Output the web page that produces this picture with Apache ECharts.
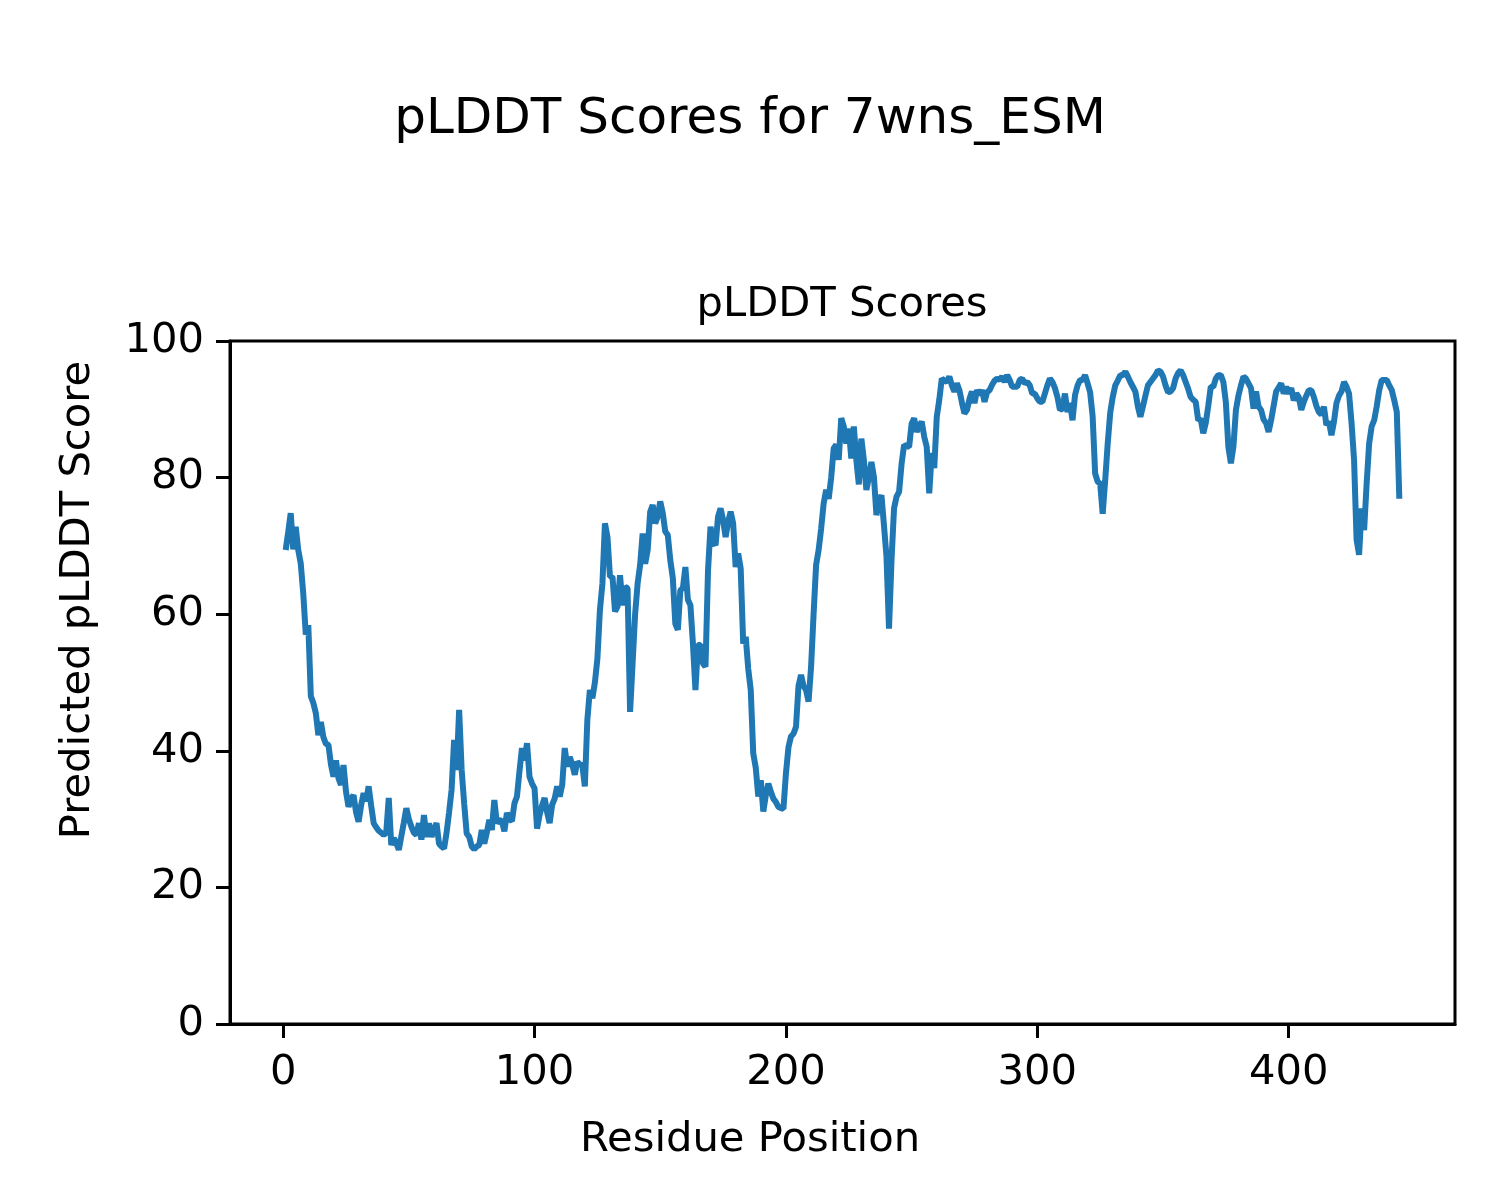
<!DOCTYPE html>
<html>
<head>
<meta charset="utf-8">
<script src="https://cdn.jsdelivr.net/npm/echarts@6/dist/echarts.min.js"></script>
<style>html,body{margin:0;padding:0;background:#fff}#c{width:1500px;height:1200px}</style>
</head>
<body>
<div id="c"></div>
<script>
// Residue positions start at 1
const startResidue = 1;
const pLDDT_0_42 = [69.4,72,74.8,69.5,72.8,69.4,67.4,63,57,58.4,48,47,45.5,42.3,44.2,42,41,40.9,38,36.2,38.6,36,35,37.9,34,31.8,33,33.5,31,29.6,32,33.8,32.6,34.8,32,29.4,28.8,28.3,28,27.7,28,33.1,26.2];
const pLDDT_43_84 = [27.2,26.5,25.5,27.5,29.5,31.6,30,28.9,28,27.7,29.4,27,30.6,27.4,29.4,27.4,28.5,29.4,26.4,26,25.7,28,31,34.3,41.6,37.2,46,37.2,32.3,27.9,27.4,26,25.6,26,26.2,28.4,26.4,28,29.9,28.4,32.8,29.4];
const pLDDT_85_129 = [29.9,29.7,28.2,30.9,30,29.7,32.3,33.3,37,40.4,38.6,41.1,36.2,35.2,34.5,28.6,30.6,32,33.1,31,29.4,32.1,33,34.8,33.3,35,40.4,37.7,39.1,38,36.5,38.4,38,37.9,34.8,44.5,48.9,47.7,50,53.5,60.6,64.5,73.3,71.3,65.5];
const pLDDT_130_172 = [65.5,60.4,61.1,65.7,61.3,64,63.8,45.7,52.8,60,64.5,67.2,71.8,67.4,69.4,75,76,73.3,74.3,76.5,74.8,72.1,71.6,67.9,65.3,58.6,57.7,63.5,63.8,66.9,62.1,61.3,55.7,48.9,55.5,55.5,52.8,52.3,66.4,72.8,70.6,70.1,74.3];
const pLDDT_173_215 = [75.5,73.8,71.3,73.5,75,73.3,66.9,68.9,66.7,55.7,56.7,52,48.9,39.6,37.5,33.3,35.7,31.1,33.5,35.2,34,33,32.5,31.8,31.6,31.5,36.7,40.5,42.1,42.5,43.5,49.5,51.1,49.5,48.9,47.2,52.3,60,67.2,69.4,72.5,76.2,78.2];
const pLDDT_216_260 = [76.9,80,84.3,84.8,82.6,88.7,87.5,85,87.2,82.8,87.5,82.6,79,85.7,82.6,78.2,80,82.3,80.1,74.5,76.7,77.4,73,68.4,57.9,67.9,75.5,77.2,77.9,82,84.8,84.6,84.5,87.9,88.7,86.7,87.5,88.2,86,84.5,77.7,83.6,81.4,88.9,91.4];
const pLDDT_261_304 = [94.5,94.2,94,94.8,93.5,92.6,93.8,92.8,91,89.4,89.9,91.5,92.6,90.9,92.8,92.1,92.8,91.1,92.5,92.8,93.6,94.2,94.5,94.3,94.8,94,95,94.3,93.3,93.3,93.3,94.3,94.5,93.8,94,93.5,92.3,92.3,91.6,91.1,91.1,92.3,93.5,94.5];
const pLDDT_305_347 = [94,93.1,91.8,89.9,90.1,92.3,89.6,90.9,88.4,92.1,93.5,94.3,94.3,95,93.8,92.5,89,80.6,79.4,79.1,74.7,79.6,85,89.5,91.8,93.5,94.2,95,95,95.5,94.8,94,93.3,92.6,90.4,88.9,90.4,92,93.5,94,94.5,95,95.7];
const pLDDT_348_391 = [95.5,94.8,93.5,92.5,92.6,93.1,94.5,95.3,95.7,95,94,93,91.8,91.4,91.1,88.4,88.6,86.5,88,90.5,93.3,93.3,94.5,95,95,94,91,84.5,82.1,84.5,89.9,92,93.5,94.8,94.5,93.8,93.1,90.1,92.6,90.4,89.9,88.5,88,86.7];
const pLDDT_392_443 = [88.4,90.5,92.6,93.2,93.8,92.3,93.3,92.3,93.1,91.3,92.3,91.8,89.9,91.1,92,92.8,92.8,91.8,90.5,89.6,89.2,90.4,87.7,88.2,86.2,88.2,90.9,92,92.6,94,93.3,92.3,88,82.6,70.9,68.7,75.5,72.3,79.1,85,87.5,88.4,90.4,92.8,94.3,94.3,94.3,93.5,92.8,91.3,89.6,76.9];
const xTicks = [0, 100, 200, 300, 400];
const yTicks = [0, 20, 40, 60, 80, 100];

const scores = [].concat(pLDDT_0_42, pLDDT_43_84, pLDDT_85_129, pLDDT_130_172, pLDDT_173_215,
  pLDDT_216_260, pLDDT_261_304, pLDDT_305_347, pLDDT_348_391, pLDDT_392_443);
const seriesData = scores.map((v, i) => [i + startResidue, v]);
const n = scores.length;
const xmin = startResidue, xmax = startResidue + n - 1;
const pad = (xmax - xmin) * 0.05;

const FONT = 'DejaVu Sans';
const chart = echarts.init(document.getElementById('c'), null, {renderer: 'canvas'});
chart.setOption({
  animation: false,
  backgroundColor: '#ffffff',
  grid: {left: 230, right: 45, top: 341, bottom: 176, show: true, borderColor: '#000', borderWidth: 3, backgroundColor: 'transparent'},
  xAxis: {
    type: 'value', min: xmin - pad, max: xmax + pad,
    axisLine: {show: true, onZero: false, lineStyle: {color: '#000', width: 3}},
    axisTick: {show: true, customValues: xTicks, length: 14, inside: false, lineStyle: {color: '#000', width: 3}},
    axisLabel: {show: true, customValues: xTicks, margin: 28, color: '#000', fontSize: 41.7, fontFamily: FONT},
    splitLine: {show: false}
  },
  yAxis: {
    type: 'value', min: yTicks[0], max: yTicks[yTicks.length - 1], interval: 20,
    axisLine: {show: true, onZero: false, lineStyle: {color: '#000', width: 3}},
    axisTick: {show: true, length: 14, inside: false, lineStyle: {color: '#000', width: 3}},
    axisLabel: {show: true, margin: 26, color: '#000', fontSize: 41.7, fontFamily: FONT},
    splitLine: {show: false}
  },
  series: [{
    type: 'line', data: seriesData, showSymbol: false, symbol: 'none',
    lineStyle: {color: '#1f77b4', width: 6}, z: 3
  }],
  graphic: [
    {type: 'text', x: 750, y: 120, style: {text: 'pLDDT Scores for 7wns_ESM', font: '50px "DejaVu Sans"', fill: '#000', textAlign: 'center', textVerticalAlign: 'middle'}},
    {type: 'text', x: 842, y: 305, style: {text: 'pLDDT Scores', font: '41.7px "DejaVu Sans"', fill: '#000', textAlign: 'center', textVerticalAlign: 'middle'}},
    {type: 'text', x: 750, y: 1140, style: {text: 'Residue Position', font: '41.7px "DejaVu Sans"', fill: '#000', textAlign: 'center', textVerticalAlign: 'middle'}},
    {type: 'text', x: 78, y: 600, rotation: Math.PI / 2, style: {text: 'Predicted pLDDT Score', font: '41.7px "DejaVu Sans"', fill: '#000', textAlign: 'center', textVerticalAlign: 'middle'}}
  ]
});
</script>
</body>
</html>
